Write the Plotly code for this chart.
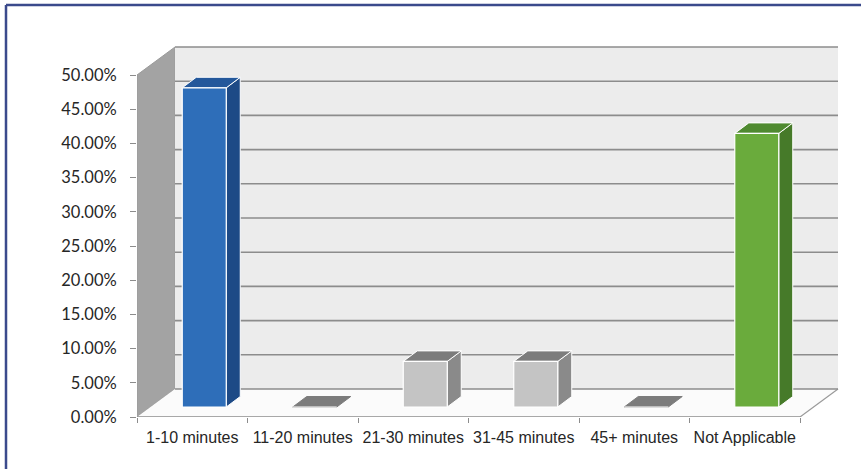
import plotly.graph_objects as go

# Survey response shares per time bucket
categories = ["1-10 minutes", "11-20 minutes", "21-30 minutes",
              "31-45 minutes", "45+ minutes", "Not Applicable"]
shares = [46.67, 0.0, 6.67, 6.67, 0.0, 40.0]
y_ticks = [0, 5, 10, 15, 20, 25, 30, 35, 40, 45, 50]

# Face colours (front, side, top) per bar
front_cols = ["#2e6eb9", "#c4c4c4", "#c4c4c4", "#c4c4c4", "#c4c4c4", "#6aab3c"]
side_cols = ["#1d4a86", "#8a8a8a", "#8a8a8a", "#8a8a8a", "#8a8a8a", "#467a29"]
top_cols = ["#24589b", "#7c7c7c", "#7c7c7c", "#7c7c7c", "#7c7c7c", "#4f8a30"]

# Pixel geometry of the plot box
W, H = 861, 469
L, R, T, B = 137, 840, 46, 417
PX_X = 110.5          # pixels per category
PX_Y = 6.84           # pixels per percentage point
n = len(categories)

def ux(px):
    return px / PX_X

def uy(px):
    return px / PX_Y

x_range = [-0.5, -0.5 + ux(R - L)]
y_range = [0, uy(B - T)]

# depth offsets (pixels -> data units)
WALL_DX, WALL_DY = ux(38), uy(28)      # full depth of the box
BAR_OX, BAR_OY = ux(12), uy(10)        # bar front plane relative to the front edge
BAR_DX, BAR_DY = ux(14), uy(10.5)      # bar depth
BAR_W = ux(44)

shapes = []

def path(pts):
    return "M " + " L ".join(f"{x:.4f},{y:.4f}" for x, y in pts) + " Z"

x_left = -0.5
x_right = n - 0.5
y_top = y_ticks[-1]

# left side wall
shapes.append(dict(type="path", xref="x", yref="y", layer="below",
                   path=path([(x_left, 0), (x_left + WALL_DX, WALL_DY),
                              (x_left + WALL_DX, y_top + WALL_DY), (x_left, y_top)]),
                   fillcolor="#a3a3a3", line=dict(color="#9a9a9a", width=1)))
# back wall
shapes.append(dict(type="path", xref="x", yref="y", layer="below",
                   path=path([(x_left + WALL_DX, WALL_DY), (x_right + WALL_DX, WALL_DY),
                              (x_right + WALL_DX, y_top + WALL_DY), (x_left + WALL_DX, y_top + WALL_DY)]),
                   fillcolor="#ececec", line=dict(width=0)))
# floor
shapes.append(dict(type="path", xref="x", yref="y", layer="below",
                   path=path([(x_left, 0), (x_right, 0),
                              (x_right + WALL_DX, WALL_DY), (x_left + WALL_DX, WALL_DY)]),
                   fillcolor="#fbfbfb", line=dict(width=0)))
# floor edges
shapes.append(dict(type="line", xref="x", yref="y", layer="below",
                   x0=x_left, y0=0, x1=x_right, y1=0,
                   line=dict(color="#8c8c8c", width=1.5)))
shapes.append(dict(type="line", xref="x", yref="y", layer="below",
                   x0=x_right, y0=0, x1=x_right + WALL_DX, y1=WALL_DY,
                   line=dict(color="#9a9a9a", width=1.2)))
# back-wall gridlines
for v in y_ticks:
    shapes.append(dict(type="line", xref="x", yref="y", layer="below",
                       x0=x_left + WALL_DX, y0=v + WALL_DY, x1=x_right + WALL_DX, y1=v + WALL_DY,
                       line=dict(color="#8c8c8c", width=1.6)))

# bar side and top faces
for i, v in enumerate(shares):
    cx = i + BAR_OX
    x0, x1 = cx - BAR_W / 2, cx + BAR_W / 2
    b = BAR_OY
    t = b + v
    if v > 0:
        shapes.append(dict(type="path", xref="x", yref="y", layer="below",
                           path=path([(x1, b), (x1 + BAR_DX, b + BAR_DY),
                                      (x1 + BAR_DX, t + BAR_DY), (x1, t)]),
                           fillcolor=side_cols[i], line=dict(color="white", width=1)))
    shapes.append(dict(type="path", xref="x", yref="y", layer="below",
                       path=path([(x0, t), (x1, t), (x1 + BAR_DX, t + BAR_DY), (x0 + BAR_DX, t + BAR_DY)]),
                       fillcolor=top_cols[i],
                       line=dict(color="white" if v > 0 else top_cols[i], width=1)))

# outer frame (top and left edges)
frame_col = "#3b4a8c"
fx0 = (6 - L) / (R - L)
fx1 = (W - L) / (R - L)
fy_top = (B - 5) / (B - T)
fy_bot = (B - H) / (B - T)
shapes.append(dict(type="line", xref="paper", yref="paper", x0=fx0, y0=fy_top, x1=fx1, y1=fy_top,
                   line=dict(color=frame_col, width=2.5)))
shapes.append(dict(type="line", xref="paper", yref="paper", x0=fx0, y0=fy_top, x1=fx0, y1=fy_bot,
                   line=dict(color=frame_col, width=2.5)))

bars = go.Bar(
    x=[i + BAR_OX for i in range(n)],
    y=shares,
    base=BAR_OY,
    width=BAR_W,
    marker=dict(color=front_cols, line=dict(color="white", width=1.2)),
    hovertext=categories,
    showlegend=False,
)

fig = go.Figure(bars)
fig.update_layout(
    width=W, height=H,
    margin=dict(l=L, r=W - R, t=T, b=H - B),
    paper_bgcolor="white",
    plot_bgcolor="rgba(0,0,0,0)",
    shapes=shapes,
    showlegend=False,
)
fig.update_xaxes(
    range=x_range, showgrid=False, zeroline=False, showline=False,
    tickmode="array", tickvals=list(range(n)), ticktext=categories, ticks="",
    tickfont=dict(family="Liberation Sans", size=16, color="#262626"),
    minor=dict(tickmode="array", tickvals=[i - 0.5 for i in range(n + 1)],
               ticks="outside", ticklen=5, tickcolor="#8c8c8c", tickwidth=1),
    ticklabelstandoff=9,
)
fig.update_yaxes(
    range=y_range, showgrid=False, zeroline=False, showline=False,
    tickmode="array", tickvals=y_ticks,
    ticktext=[f"{v:.2f}%" for v in y_ticks],
    ticks="outside", ticklen=6, tickcolor="#8c8c8c", tickwidth=1,
    tickfont=dict(family="Lato", size=16.5, color="#262626"),
    ticklabelstandoff=10,
)

fig.write_html("out.html")
